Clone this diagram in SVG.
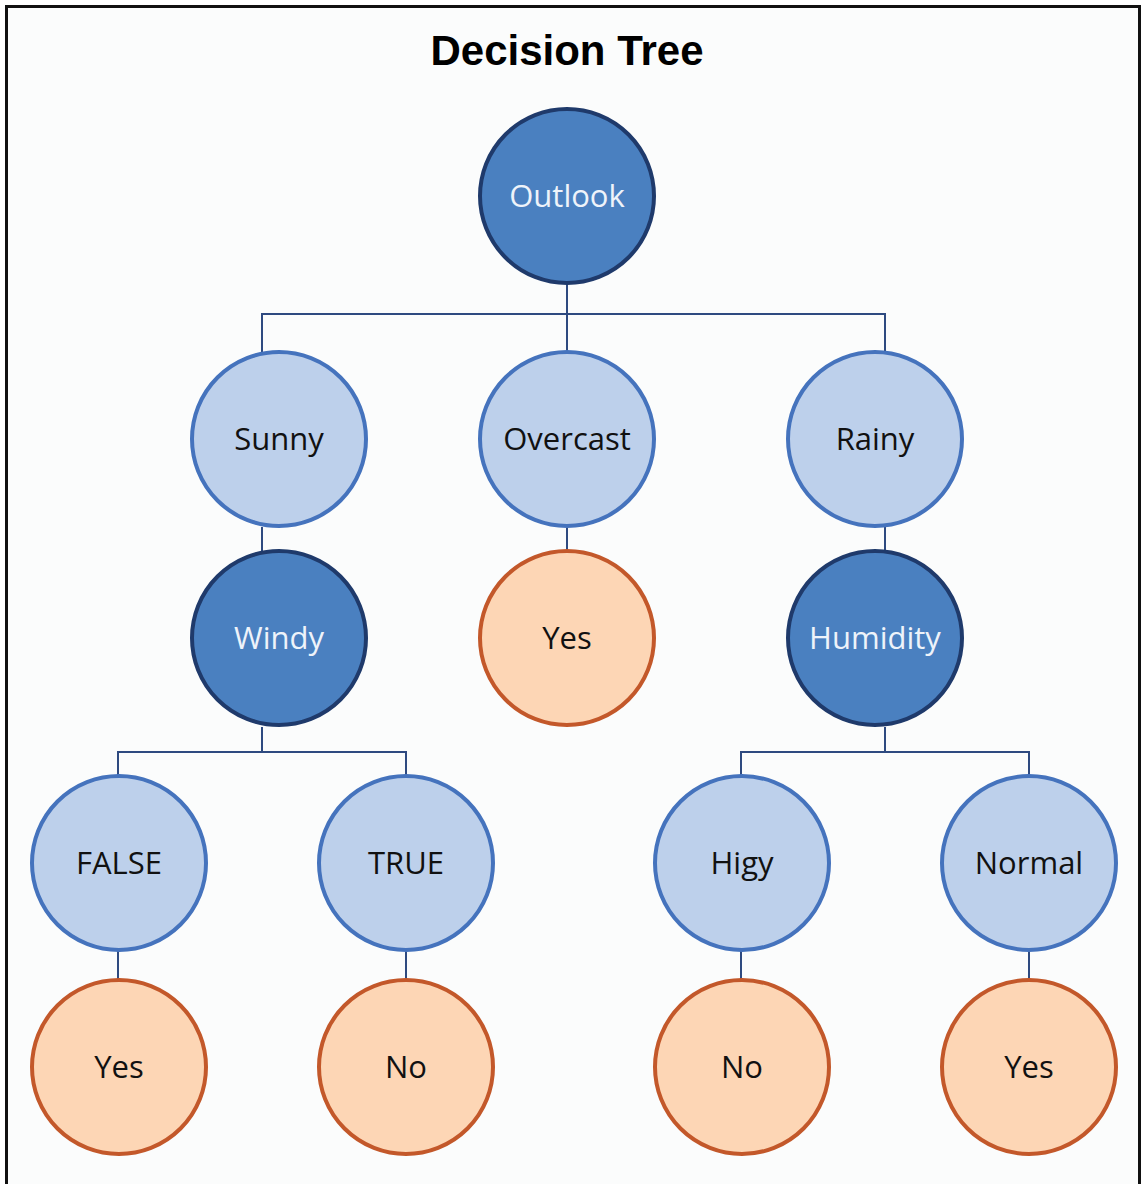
<svg xmlns="http://www.w3.org/2000/svg" width="1143" height="1184" viewBox="0 0 1143 1184">
<style>
.dark circle{fill:#4a80c0;stroke:#1f3a6b;stroke-width:4}
.light circle{fill:#bdd0eb;stroke:#4573bd;stroke-width:4}
.leaf circle{fill:#fdd6b5;stroke:#c3582a;stroke-width:4}
text{font-family:"Open Sans","Noto Sans","Liberation Sans",sans-serif;font-size:31px;text-anchor:middle}
.dark text{fill:#eef3fa}
.light text,.leaf text{fill:#111}
#connectors path{fill:none;stroke:#2e4a80;stroke-width:2}
</style>
<rect x="0" y="0" width="1143" height="1184" fill="#ffffff"/>
<rect x="6.5" y="6.5" width="1133" height="1190" fill="#fbfcfc" stroke="#111" stroke-width="3"/>
<text x="567" y="65" style="font-family:'Liberation Sans',Arial,sans-serif;font-weight:bold;font-size:42px;fill:#000">Decision Tree</text>
<g id="connectors">
<path d="M567 284V352M262 352V314H885V352"/>
<path d="M262 527V551"/>
<path d="M567 527V551"/>
<path d="M885 527V551"/>
<path d="M262 727V752M118 776V752H406V776"/>
<path d="M885 727V752M741 776V752H1029V776"/>
<path d="M118 951V981"/>
<path d="M406 951V981"/>
<path d="M741 951V981"/>
<path d="M1029 951V981"/>
</g>
<g id="outlook" class="dark"><circle cx="567" cy="196" r="87"/><text x="567" y="207">Outlook</text></g>
<g id="sunny" class="light"><circle cx="279" cy="439" r="87"/><text x="279" y="450">Sunny</text></g>
<g id="overcast" class="light"><circle cx="567" cy="439" r="87"/><text x="567" y="450">Overcast</text></g>
<g id="rainy" class="light"><circle cx="875" cy="439" r="87"/><text x="875" y="450">Rainy</text></g>
<g id="windy" class="dark"><circle cx="279" cy="638" r="87"/><text x="279" y="649">Windy</text></g>
<g id="yes-overcast" class="leaf"><circle cx="567" cy="638" r="87"/><text x="567" y="649">Yes</text></g>
<g id="humidity" class="dark"><circle cx="875" cy="638" r="87"/><text x="875" y="649">Humidity</text></g>
<g id="false" class="light"><circle cx="119" cy="863" r="87"/><text x="119" y="874">FALSE</text></g>
<g id="true" class="light"><circle cx="406" cy="863" r="87"/><text x="406" y="874">TRUE</text></g>
<g id="higy" class="light"><circle cx="742" cy="863" r="87"/><text x="742" y="874">Higy</text></g>
<g id="normal" class="light"><circle cx="1029" cy="863" r="87"/><text x="1029" y="874">Normal</text></g>
<g id="yes-false" class="leaf"><circle cx="119" cy="1067" r="87"/><text x="119" y="1078">Yes</text></g>
<g id="no-true" class="leaf"><circle cx="406" cy="1067" r="87"/><text x="406" y="1078">No</text></g>
<g id="no-higy" class="leaf"><circle cx="742" cy="1067" r="87"/><text x="742" y="1078">No</text></g>
<g id="yes-normal" class="leaf"><circle cx="1029" cy="1067" r="87"/><text x="1029" y="1078">Yes</text></g>
</svg>
